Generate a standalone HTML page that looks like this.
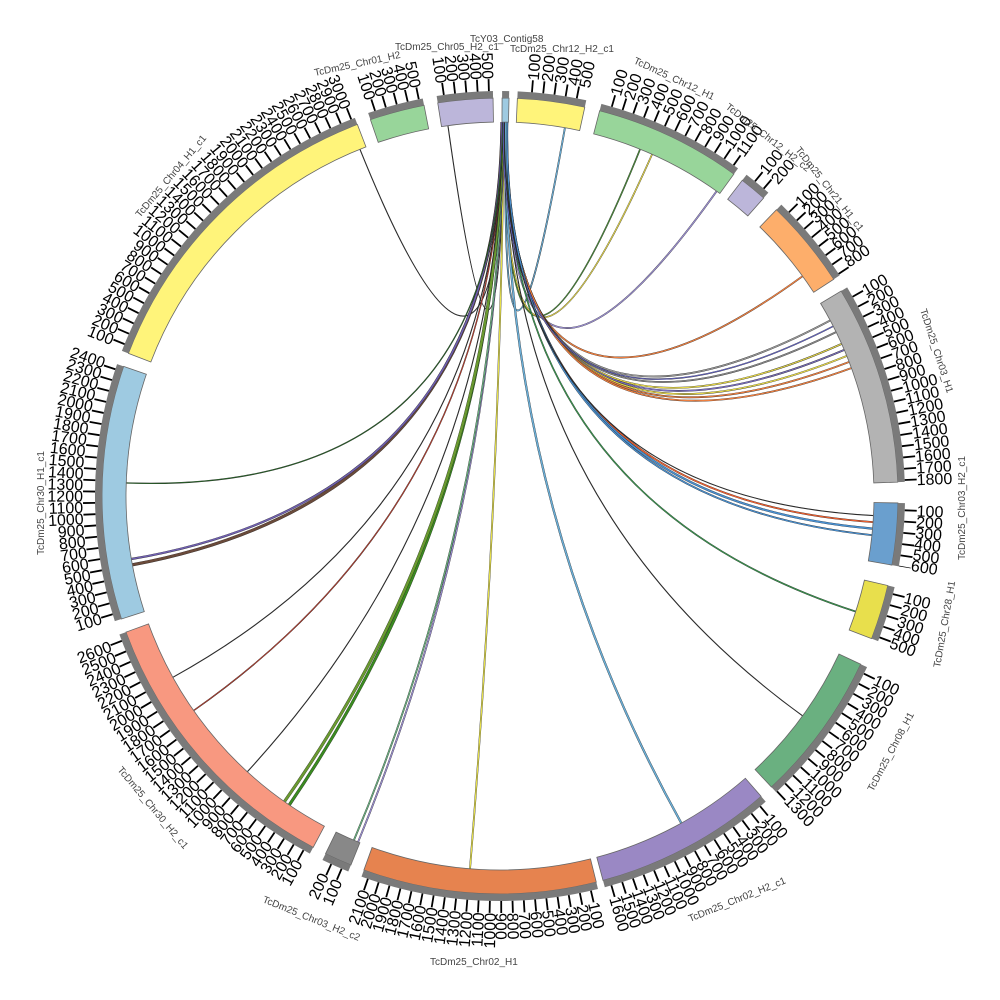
<!DOCTYPE html>
<html><head><meta charset="utf-8"><style>
html,body{margin:0;padding:0;background:#fff;}
svg{display:block;}
.r,.l{font-family:"Liberation Sans",sans-serif;font-size:16px;fill:#000;}
.l{text-anchor:end;}
.n{font-family:"Liberation Sans",sans-serif;font-size:10px;fill:#444;}
</style></head><body>
<svg id="s" width="1000" height="1000" viewBox="0 0 1000 1000" xmlns="http://www.w3.org/2000/svg">
<g id="links"></g>
<g id="segs"></g>
<g>
<text class="r" transform="rotate(-85.5 500 496)" x="917" y="502">100</text>
<text class="r" transform="rotate(-83.6 500 496)" x="917" y="502">200</text>
<text class="r" transform="rotate(-81.8 500 496)" x="917" y="502">300</text>
<text class="r" transform="rotate(-80 500 496)" x="917" y="502">400</text>
<text class="r" transform="rotate(-78.4 500 496)" x="917" y="502">500</text>
<text class="r" transform="rotate(-74 500 496)" x="917" y="502">100</text>
<text class="r" transform="rotate(-72.1 500 496)" x="917" y="502">200</text>
<text class="r" transform="rotate(-70.2 500 496)" x="917" y="502">300</text>
<text class="r" transform="rotate(-68.3 500 496)" x="917" y="502">400</text>
<text class="r" transform="rotate(-66.4 500 496)" x="917" y="502">500</text>
<text class="r" transform="rotate(-64.5 500 496)" x="917" y="502">600</text>
<text class="r" transform="rotate(-62.6 500 496)" x="917" y="502">700</text>
<text class="r" transform="rotate(-60.7 500 496)" x="917" y="502">800</text>
<text class="r" transform="rotate(-58.8 500 496)" x="917" y="502">900</text>
<text class="r" transform="rotate(-56.9 500 496)" x="917" y="502">1000</text>
<text class="r" transform="rotate(-55 500 496)" x="917" y="502">1100</text>
<text class="r" transform="rotate(-51 500 496)" x="917" y="502">100</text>
<text class="r" transform="rotate(-49 500 496)" x="917" y="502">200</text>
<text class="r" transform="rotate(-44.5 500 496)" x="917" y="502">100</text>
<text class="r" transform="rotate(-43 500 496)" x="917" y="502">200</text>
<text class="r" transform="rotate(-41.5 500 496)" x="917" y="502">300</text>
<text class="r" transform="rotate(-40 500 496)" x="917" y="502">400</text>
<text class="r" transform="rotate(-38.5 500 496)" x="917" y="502">500</text>
<text class="r" transform="rotate(-37 500 496)" x="917" y="502">600</text>
<text class="r" transform="rotate(-35.5 500 496)" x="917" y="502">700</text>
<text class="r" transform="rotate(-34 500 496)" x="917" y="502">800</text>
<text class="r" transform="rotate(-29.5 500 496)" x="917" y="502">100</text>
<text class="r" transform="rotate(-27.9 500 496)" x="917" y="502">200</text>
<text class="r" transform="rotate(-26.3 500 496)" x="917" y="502">300</text>
<text class="r" transform="rotate(-24.7 500 496)" x="917" y="502">400</text>
<text class="r" transform="rotate(-23.1 500 496)" x="917" y="502">500</text>
<text class="r" transform="rotate(-21.5 500 496)" x="917" y="502">600</text>
<text class="r" transform="rotate(-19.9 500 496)" x="917" y="502">700</text>
<text class="r" transform="rotate(-18.3 500 496)" x="917" y="502">800</text>
<text class="r" transform="rotate(-16.7 500 496)" x="917" y="502">900</text>
<text class="r" transform="rotate(-15.1 500 496)" x="917" y="502">1000</text>
<text class="r" transform="rotate(-13.5 500 496)" x="917" y="502">1100</text>
<text class="r" transform="rotate(-11.9 500 496)" x="917" y="502">1200</text>
<text class="r" transform="rotate(-10.3 500 496)" x="917" y="502">1300</text>
<text class="r" transform="rotate(-8.7 500 496)" x="917" y="502">1400</text>
<text class="r" transform="rotate(-7.1 500 496)" x="917" y="502">1500</text>
<text class="r" transform="rotate(-5.5 500 496)" x="917" y="502">1600</text>
<text class="r" transform="rotate(-3.9 500 496)" x="917" y="502">1700</text>
<text class="r" transform="rotate(-2.3 500 496)" x="917" y="502">1800</text>
<text class="r" transform="rotate(2 500 496)" x="917" y="502">100</text>
<text class="r" transform="rotate(3.5 500 496)" x="917" y="502">200</text>
<text class="r" transform="rotate(5 500 496)" x="917" y="502">300</text>
<text class="r" transform="rotate(6.5 500 496)" x="917" y="502">400</text>
<text class="r" transform="rotate(8 500 496)" x="917" y="502">500</text>
<text class="r" transform="rotate(9.5 500 496)" x="917" y="502">600</text>
<text class="r" transform="rotate(14 500 496)" x="917" y="502">100</text>
<text class="r" transform="rotate(15.7 500 496)" x="917" y="502">200</text>
<text class="r" transform="rotate(17.4 500 496)" x="917" y="502">300</text>
<text class="r" transform="rotate(19 500 496)" x="917" y="502">400</text>
<text class="r" transform="rotate(20.5 500 496)" x="917" y="502">500</text>
<text class="r" transform="rotate(26 500 496)" x="917" y="502">100</text>
<text class="r" transform="rotate(27.7 500 496)" x="917" y="502">200</text>
<text class="r" transform="rotate(29.4 500 496)" x="917" y="502">300</text>
<text class="r" transform="rotate(31.1 500 496)" x="917" y="502">400</text>
<text class="r" transform="rotate(32.8 500 496)" x="917" y="502">500</text>
<text class="r" transform="rotate(34.5 500 496)" x="917" y="502">600</text>
<text class="r" transform="rotate(36.2 500 496)" x="917" y="502">700</text>
<text class="r" transform="rotate(37.9 500 496)" x="917" y="502">800</text>
<text class="r" transform="rotate(39.6 500 496)" x="917" y="502">900</text>
<text class="r" transform="rotate(41.3 500 496)" x="917" y="502">1000</text>
<text class="r" transform="rotate(43 500 496)" x="917" y="502">1100</text>
<text class="r" transform="rotate(44.7 500 496)" x="917" y="502">1200</text>
<text class="r" transform="rotate(46.4 500 496)" x="917" y="502">1300</text>
<text class="r" transform="rotate(50 500 496)" x="917" y="502">100</text>
<text class="r" transform="rotate(51.6 500 496)" x="917" y="502">200</text>
<text class="r" transform="rotate(53.2 500 496)" x="917" y="502">300</text>
<text class="r" transform="rotate(54.8 500 496)" x="917" y="502">400</text>
<text class="r" transform="rotate(56.4 500 496)" x="917" y="502">500</text>
<text class="r" transform="rotate(58 500 496)" x="917" y="502">600</text>
<text class="r" transform="rotate(59.6 500 496)" x="917" y="502">700</text>
<text class="r" transform="rotate(61.2 500 496)" x="917" y="502">800</text>
<text class="r" transform="rotate(62.8 500 496)" x="917" y="502">900</text>
<text class="r" transform="rotate(64.4 500 496)" x="917" y="502">1000</text>
<text class="r" transform="rotate(66 500 496)" x="917" y="502">1100</text>
<text class="r" transform="rotate(67.6 500 496)" x="917" y="502">1200</text>
<text class="r" transform="rotate(69.2 500 496)" x="917" y="502">1300</text>
<text class="r" transform="rotate(70.8 500 496)" x="917" y="502">1400</text>
<text class="r" transform="rotate(72.4 500 496)" x="917" y="502">1500</text>
<text class="r" transform="rotate(74 500 496)" x="917" y="502">1600</text>
<text class="r" transform="rotate(77 500 496)" x="917" y="502">100</text>
<text class="r" transform="rotate(78.6 500 496)" x="917" y="502">200</text>
<text class="r" transform="rotate(80.2 500 496)" x="917" y="502">300</text>
<text class="r" transform="rotate(81.8 500 496)" x="917" y="502">400</text>
<text class="r" transform="rotate(83.4 500 496)" x="917" y="502">500</text>
<text class="r" transform="rotate(85 500 496)" x="917" y="502">600</text>
<text class="r" transform="rotate(86.6 500 496)" x="917" y="502">700</text>
<text class="r" transform="rotate(88.2 500 496)" x="917" y="502">800</text>
<text class="r" transform="rotate(89.8 500 496)" x="917" y="502">900</text>
<text class="l" transform="rotate(-88.6 500 496)" x="83" y="502">1000</text>
<text class="l" transform="rotate(-87 500 496)" x="83" y="502">1100</text>
<text class="l" transform="rotate(-85.4 500 496)" x="83" y="502">1200</text>
<text class="l" transform="rotate(-83.8 500 496)" x="83" y="502">1300</text>
<text class="l" transform="rotate(-82.2 500 496)" x="83" y="502">1400</text>
<text class="l" transform="rotate(-80.6 500 496)" x="83" y="502">1500</text>
<text class="l" transform="rotate(-79 500 496)" x="83" y="502">1600</text>
<text class="l" transform="rotate(-77.4 500 496)" x="83" y="502">1700</text>
<text class="l" transform="rotate(-75.8 500 496)" x="83" y="502">1800</text>
<text class="l" transform="rotate(-74.2 500 496)" x="83" y="502">1900</text>
<text class="l" transform="rotate(-72.6 500 496)" x="83" y="502">2000</text>
<text class="l" transform="rotate(-71 500 496)" x="83" y="502">2100</text>
<text class="l" transform="rotate(-67 500 496)" x="83" y="502">100</text>
<text class="l" transform="rotate(-65 500 496)" x="83" y="502">200</text>
<text class="l" transform="rotate(-61 500 496)" x="83" y="502">100</text>
<text class="l" transform="rotate(-59.4 500 496)" x="83" y="502">200</text>
<text class="l" transform="rotate(-57.8 500 496)" x="83" y="502">300</text>
<text class="l" transform="rotate(-56.2 500 496)" x="83" y="502">400</text>
<text class="l" transform="rotate(-54.6 500 496)" x="83" y="502">500</text>
<text class="l" transform="rotate(-53 500 496)" x="83" y="502">600</text>
<text class="l" transform="rotate(-51.4 500 496)" x="83" y="502">700</text>
<text class="l" transform="rotate(-49.8 500 496)" x="83" y="502">800</text>
<text class="l" transform="rotate(-48.2 500 496)" x="83" y="502">900</text>
<text class="l" transform="rotate(-46.6 500 496)" x="83" y="502">1000</text>
<text class="l" transform="rotate(-45 500 496)" x="83" y="502">1100</text>
<text class="l" transform="rotate(-43.4 500 496)" x="83" y="502">1200</text>
<text class="l" transform="rotate(-41.8 500 496)" x="83" y="502">1300</text>
<text class="l" transform="rotate(-40.2 500 496)" x="83" y="502">1400</text>
<text class="l" transform="rotate(-38.6 500 496)" x="83" y="502">1500</text>
<text class="l" transform="rotate(-37 500 496)" x="83" y="502">1600</text>
<text class="l" transform="rotate(-35.4 500 496)" x="83" y="502">1700</text>
<text class="l" transform="rotate(-33.8 500 496)" x="83" y="502">1800</text>
<text class="l" transform="rotate(-32.2 500 496)" x="83" y="502">1900</text>
<text class="l" transform="rotate(-30.6 500 496)" x="83" y="502">2000</text>
<text class="l" transform="rotate(-29 500 496)" x="83" y="502">2100</text>
<text class="l" transform="rotate(-27.4 500 496)" x="83" y="502">2200</text>
<text class="l" transform="rotate(-25.8 500 496)" x="83" y="502">2300</text>
<text class="l" transform="rotate(-24.2 500 496)" x="83" y="502">2400</text>
<text class="l" transform="rotate(-22.6 500 496)" x="83" y="502">2500</text>
<text class="l" transform="rotate(-21 500 496)" x="83" y="502">2600</text>
<text class="l" transform="rotate(-17 500 496)" x="83" y="502">100</text>
<text class="l" transform="rotate(-15.45 500 496)" x="83" y="502">200</text>
<text class="l" transform="rotate(-13.9 500 496)" x="83" y="502">300</text>
<text class="l" transform="rotate(-12.35 500 496)" x="83" y="502">400</text>
<text class="l" transform="rotate(-10.8 500 496)" x="83" y="502">500</text>
<text class="l" transform="rotate(-9.25 500 496)" x="83" y="502">600</text>
<text class="l" transform="rotate(-7.7 500 496)" x="83" y="502">700</text>
<text class="l" transform="rotate(-6.15 500 496)" x="83" y="502">800</text>
<text class="l" transform="rotate(-4.6 500 496)" x="83" y="502">900</text>
<text class="l" transform="rotate(-3.05 500 496)" x="83" y="502">1000</text>
<text class="l" transform="rotate(-1.5 500 496)" x="83" y="502">1100</text>
<text class="l" transform="rotate(0.05 500 496)" x="83" y="502">1200</text>
<text class="l" transform="rotate(1.6 500 496)" x="83" y="502">1300</text>
<text class="l" transform="rotate(3.15 500 496)" x="83" y="502">1400</text>
<text class="l" transform="rotate(4.7 500 496)" x="83" y="502">1500</text>
<text class="l" transform="rotate(6.25 500 496)" x="83" y="502">1600</text>
<text class="l" transform="rotate(7.8 500 496)" x="83" y="502">1700</text>
<text class="l" transform="rotate(9.35 500 496)" x="83" y="502">1800</text>
<text class="l" transform="rotate(10.9 500 496)" x="83" y="502">1900</text>
<text class="l" transform="rotate(12.45 500 496)" x="83" y="502">2000</text>
<text class="l" transform="rotate(14 500 496)" x="83" y="502">2100</text>
<text class="l" transform="rotate(15.55 500 496)" x="83" y="502">2200</text>
<text class="l" transform="rotate(17.1 500 496)" x="83" y="502">2300</text>
<text class="l" transform="rotate(18.65 500 496)" x="83" y="502">2400</text>
<text class="l" transform="rotate(22 500 496)" x="83" y="502">100</text>
<text class="l" transform="rotate(23.6 500 496)" x="83" y="502">200</text>
<text class="l" transform="rotate(25.2 500 496)" x="83" y="502">300</text>
<text class="l" transform="rotate(26.8 500 496)" x="83" y="502">400</text>
<text class="l" transform="rotate(28.4 500 496)" x="83" y="502">500</text>
<text class="l" transform="rotate(30 500 496)" x="83" y="502">600</text>
<text class="l" transform="rotate(31.6 500 496)" x="83" y="502">700</text>
<text class="l" transform="rotate(33.2 500 496)" x="83" y="502">800</text>
<text class="l" transform="rotate(34.8 500 496)" x="83" y="502">900</text>
<text class="l" transform="rotate(36.4 500 496)" x="83" y="502">1000</text>
<text class="l" transform="rotate(38 500 496)" x="83" y="502">1100</text>
<text class="l" transform="rotate(39.6 500 496)" x="83" y="502">1200</text>
<text class="l" transform="rotate(41.2 500 496)" x="83" y="502">1300</text>
<text class="l" transform="rotate(42.8 500 496)" x="83" y="502">1400</text>
<text class="l" transform="rotate(44.4 500 496)" x="83" y="502">1500</text>
<text class="l" transform="rotate(46 500 496)" x="83" y="502">1600</text>
<text class="l" transform="rotate(47.6 500 496)" x="83" y="502">1700</text>
<text class="l" transform="rotate(49.2 500 496)" x="83" y="502">1800</text>
<text class="l" transform="rotate(50.8 500 496)" x="83" y="502">1900</text>
<text class="l" transform="rotate(52.4 500 496)" x="83" y="502">2000</text>
<text class="l" transform="rotate(54 500 496)" x="83" y="502">2100</text>
<text class="l" transform="rotate(55.6 500 496)" x="83" y="502">2200</text>
<text class="l" transform="rotate(57.2 500 496)" x="83" y="502">2300</text>
<text class="l" transform="rotate(58.8 500 496)" x="83" y="502">2400</text>
<text class="l" transform="rotate(60.4 500 496)" x="83" y="502">2500</text>
<text class="l" transform="rotate(62 500 496)" x="83" y="502">2600</text>
<text class="l" transform="rotate(63.6 500 496)" x="83" y="502">2700</text>
<text class="l" transform="rotate(65.2 500 496)" x="83" y="502">2800</text>
<text class="l" transform="rotate(66.8 500 496)" x="83" y="502">2900</text>
<text class="l" transform="rotate(68.4 500 496)" x="83" y="502">3000</text>
<text class="l" transform="rotate(72 500 496)" x="83" y="502">100</text>
<text class="l" transform="rotate(73.6 500 496)" x="83" y="502">200</text>
<text class="l" transform="rotate(75.2 500 496)" x="83" y="502">300</text>
<text class="l" transform="rotate(76.8 500 496)" x="83" y="502">400</text>
<text class="l" transform="rotate(78.4 500 496)" x="83" y="502">500</text>
<text class="l" transform="rotate(82 500 496)" x="83" y="502">100</text>
<text class="l" transform="rotate(83.6 500 496)" x="83" y="502">200</text>
<text class="l" transform="rotate(85.2 500 496)" x="83" y="502">300</text>
<text class="l" transform="rotate(86.8 500 496)" x="83" y="502">400</text>
<text class="l" transform="rotate(88.4 500 496)" x="83" y="502">500</text>
</g>
<g>
<text class="n" x="470" y="42">TcY03_Contig58</text>
<text class="n" x="395" y="50">TcDm25_Chr05_H2_c1</text>
<text class="n" x="315" y="76" transform="rotate(-12 315 76)">TcDm25_Chr01_H2</text>
<text class="n" x="510" y="52">TcDm25_Chr12_H2_c1</text>
<text class="n" x="633" y="63" transform="rotate(25 633 63)">TcDm25_Chr12_H1</text>
<text class="n" x="725" y="108" transform="rotate(38 725 108)">TcDm25_Chr12_H2_c2</text>
<text class="n" x="795" y="150" transform="rotate(52 795 150)">TcDm25_Chr21_H1_c1</text>
<text class="n" x="920" y="310" transform="rotate(72 920 310)">TcDm25_Chr03_H1</text>
<text class="n" x="965" y="560" transform="rotate(-90 965 560)">TcDm25_Chr03_H2_c1</text>
<text class="n" x="940" y="668" transform="rotate(-80 940 668)">TcDm25_Chr28_H1</text>
<text class="n" x="873" y="792" transform="rotate(-62 873 792)">TcDm25_Chr08_H1</text>
<text class="n" x="690" y="922" transform="rotate(-22 690 922)">TcDm25_Chr02_H2_c1</text>
<text class="n" x="430" y="965">TcDm25_Chr02_H1</text>
<text class="n" x="262" y="902" transform="rotate(22 262 902)">TcDm25_Chr03_H2_c2</text>
<text class="n" x="117" y="770" transform="rotate(50 117 770)">TcDm25_Chr30_H2_c1</text>
<text class="n" x="44" y="555" transform="rotate(-90 44 555)">TcDm25_Chr30_H1_c1</text>
<text class="n" x="140" y="218" transform="rotate(-50 140 218)">TcDm25_Chr04_H1_c1</text>
</g>
</svg>
<script>
(function(){
var NS="http://www.w3.org/2000/svg",cx=500,cy=496;
function P(r,a){a=a*Math.PI/180;return [cx+r*Math.sin(a),cy-r*Math.cos(a)];}
function f(p){return p[0].toFixed(2)+" "+p[1].toFixed(2);}
function sector(r1,r2,a1,a2){var L=(a2-a1)>180?1:0;
return "M"+f(P(r2,a1))+" A"+r2+" "+r2+" 0 "+L+" 1 "+f(P(r2,a2))+" L"+f(P(r1,a2))+" A"+r1+" "+r1+" 0 "+L+" 0 "+f(P(r1,a1))+" Z";}
function arcp(r,a1,a2){return "M"+f(P(r,a1))+" A"+r+" "+r+" 0 0 1 "+f(P(r,a2));}
function el(t,at,par){var e=document.createElementNS(NS,t);for(var k in at)e.setAttribute(k,at[k]);par.appendChild(e);return e;}
var segs=[[0.3,1.3,"#9ecae1",0],[2.5,12.3,"#fff47a",4.5],[14.5,36,"#98d59a",16],[37.5,41.5,"#bcb6da",39],[44,57,"#fdae6b",45.5],[59,88,"#b3b3b3",60.5],[91,100,"#6a9fce",92],[103,111,"#e8df4c",104],[115,137,"#6ab080",116],[139,165,"#9a88c4",140],[166,200,"#e6834f",167],[202,206,"#888888",203],[208,250,"#f89880",209],[252,289,"#9ecae1",253],[291,339,"#fff47a",292],[341,349,"#98d59a",342],[351,359,"#bcb6da",352]];
var G=document.getElementById("segs");
segs.forEach(function(s){
 el("path",{d:sector(374,398,s[0],s[1]),fill:s[2],stroke:"#666","stroke-width":"0.8"},G);
 el("path",{d:sector(398,405,s[0],s[1]),fill:"#7a7a7a"},G);
 if(s[3]){var step=1.6*Math.PI/180*411;
 el("path",{d:arcp(411,s[3]-0.1,s[1]),fill:"none",stroke:"#000","stroke-width":"12","stroke-dasharray":"1.8 "+(step-1.8).toFixed(2)},G);}
});
var links=[[0.5,338,"#333",0.5],[0.6,352,"#333",0.5],[0.9,10,"#6baed6",1.2],[0.8,22,"#4a8a3a",1],[0.9,24,"#e6d84a",1],[1,35.4,"#9b8fd0",1.2],[1,54,"#f08040",1.2],[1,62,"#999",1.2],[1,64,"#888",1.2],[1,66,"#e6d84a",1.2],[1,67,"#7b6fc0",1.2],[1,68,"#e6d84a",1.2],[1,69,"#f08040",1.2],[1,70,"#f08040",1.2],[1.1,94,"#f06030",1.2],[1.1,95,"#4a90d0",1.6],[1.1,96,"#4a90d0",1.2],[0.8,108,"#3a9a50",1],[0.8,126,"#333",0.5],[0.9,151,"#6baed6",1.6],[0.6,184.6,"#e6e04a",1.2],[0.6,202.3,"#9b8fd0",1.2],[0.5,203,"#6ab080",1.2],[0.4,214.3,"#3a8a20",2.5],[0.4,215.2,"#6a9a30",2.5],[0.4,222.5,"#333",0.5],[0.4,235,"#c04030",0.8],[0.4,241,"#333",0.5],[0.3,259.4,"#6a4a3a",2.5],[0.3,260.3,"#7060b0",1.6],[0.4,272,"#2a6a2a",0.7],[0.5,63,"#6a6ad0",0.8],[0.7,93,"#333",0.5]];
var LG=document.getElementById("links");
links.forEach(function(l){
 var d="M"+f(P(374,l[0]))+" Q"+cx+" "+cy+" "+f(P(374,l[1]));
 el("path",{d:d,fill:"none",stroke:"#222","stroke-width":(l[3]+0.6).toString()},LG);
 el("path",{d:d,fill:"none",stroke:l[2],"stroke-width":l[3].toString()},LG);
});
})();
</script>
</body></html>
